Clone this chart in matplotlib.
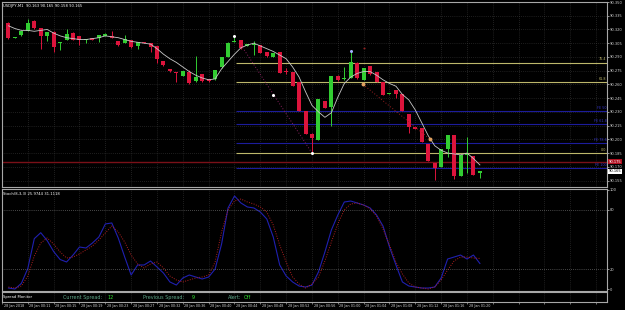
import matplotlib
matplotlib.use('Agg')
import matplotlib.pyplot as plt
from matplotlib.transforms import blended_transform_factory

# USDJPY M1 candles (open, high, low, close)
opens = [90.327, 90.311, 90.314, 90.318, 90.329, 90.322, 90.313, 90.317, 90.305, 90.309,
         90.316, 90.313, 90.309, 90.311, 90.311, 90.313, 90.313, 90.307, 90.305, 90.308,
         90.302, 90.306, 90.305, 90.302, 90.286, 90.277, 90.273, 90.269, 90.274, 90.264,
         90.271, 90.266, 90.266, 90.279, 90.290, 90.306, 90.308, 90.302, 90.303, 90.303,
         90.295, 90.290, 90.295, 90.275, 90.274, 90.263, 90.231, 90.206, 90.199, 90.242,
         90.235, 90.269, 90.266, 90.267, 90.283, 90.265, 90.280, 90.274, 90.263, 90.249,
         90.254, 90.249, 90.228, 90.213, 90.212, 90.195, 90.174, 90.170, 90.189, 90.205,
         90.160, 90.183, 90.182, 90.163]
highs = [90.328, 90.312, 90.318, 90.331, 90.330, 90.322, 90.317, 90.318, 90.306, 90.320,
         90.317, 90.313, 90.310, 90.311, 90.314, 90.316, 90.318, 90.307, 90.314, 90.308,
         90.306, 90.306, 90.305, 90.302, 90.286, 90.277, 90.273, 90.275, 90.276, 90.291,
         90.271, 90.266, 90.276, 90.290, 90.306, 90.312, 90.308, 90.304, 90.307, 90.303,
         90.295, 90.294, 90.295, 90.278, 90.274, 90.263, 90.231, 90.207, 90.244, 90.242,
         90.269, 90.270, 90.279, 90.295, 90.284, 90.278, 90.280, 90.274, 90.263, 90.251,
         90.254, 90.249, 90.228, 90.213, 90.212, 90.195, 90.174, 90.189, 90.205, 90.205,
         90.183, 90.203, 90.182, 90.165]
lows = [90.310, 90.311, 90.313, 90.318, 90.321, 90.299, 90.307, 90.295, 90.298, 90.309,
        90.308, 90.303, 90.305, 90.309, 90.306, 90.313, 90.311, 90.302, 90.305, 90.300,
        90.299, 90.305, 90.295, 90.283, 90.280, 90.274, 90.263, 90.269, 90.260, 90.263,
        90.263, 90.263, 90.265, 90.278, 90.290, 90.306, 90.299, 90.302, 90.292, 90.294,
        90.290, 90.290, 90.272, 90.271, 90.258, 90.231, 90.206, 90.185, 90.199, 90.234,
        90.214, 90.264, 90.265, 90.267, 90.266, 90.265, 90.270, 90.263, 90.248, 90.249,
        90.245, 90.231, 90.207, 90.211, 90.197, 90.176, 90.156, 90.170, 90.181, 90.157,
        90.160, 90.163, 90.161, 90.158]
closes = [90.311, 90.312, 90.318, 90.327, 90.322, 90.313, 90.317, 90.301, 90.306, 90.315,
          90.309, 90.309, 90.310, 90.309, 90.314, 90.315, 90.311, 90.303, 90.310, 90.301,
          90.306, 90.305, 90.301, 90.288, 90.281, 90.275, 90.272, 90.275, 90.261, 90.268,
          90.264, 90.264, 90.276, 90.290, 90.305, 90.307, 90.300, 90.304, 90.304, 90.294,
          90.291, 90.294, 90.272, 90.274, 90.258, 90.231, 90.206, 90.201, 90.244, 90.234,
          90.269, 90.265, 90.267, 90.285, 90.267, 90.278, 90.271, 90.263, 90.248, 90.251,
          90.249, 90.231, 90.213, 90.211, 90.197, 90.176, 90.169, 90.189, 90.205, 90.160,
          90.183, 90.184, 90.161, 90.165]
ma = [90.324, 90.321, 90.319, 90.319, 90.318, 90.319, 90.320, 90.316, 90.313, 90.311,
      90.310, 90.309, 90.309, 90.310, 90.311, 90.313, 90.312, 90.311, 90.309, 90.307,
      90.306, 90.305, 90.304, 90.299, 90.293, 90.288, 90.284, 90.279, 90.274, 90.270,
      90.267, 90.265, 90.266, 90.277, 90.285, 90.293, 90.300, 90.303, 90.305, 90.302,
      90.299, 90.296, 90.292, 90.288, 90.279, 90.268, 90.252, 90.237, 90.230, 90.224,
      90.229, 90.246, 90.261, 90.268, 90.272, 90.274, 90.274, 90.270, 90.265, 90.261,
      90.258, 90.249, 90.243, 90.232, 90.218, 90.204, 90.193, 90.188, 90.185, 90.184,
      90.183, 90.185, 90.179, 90.172]

# Stochastic(8,3,3)
stoch_main = [1.3, 0.3, 6, 21, 51, 57, 49, 38, 30, 27.5,
              34.5, 42.6, 41.6, 46.6, 52.7, 65.8, 66.8, 51.7, 32.5, 14.4,
              24.5, 24.5, 28.5, 22.5, 16.4, 7.4, 4.3, 11.4, 14.4, 12.4,
              10.4, 12.4, 20.4, 45.6, 81.9, 94, 86.9, 82.9, 81.9, 77.8,
              70.8, 52.7, 24.5, 13.4, 7.4, 3.3, 2.3, 4.3, 17.4, 37.6,
              59.7, 74.8, 87.9, 88.9, 86.9, 84.9, 81.9, 74.8, 63.7, 42.6,
              24.5, 7.4, 3.3, 2.3, 1.3, 1.3, 2.3, 11.4, 30.5, 32.5,
              34.5, 30.5, 34.5, 25.97]
stoch_signal = [2.3, 1.3, 3.3, 13.4, 33.5, 46.6, 51.7, 45.6, 37.6, 31.5,
                32.5, 35.6, 39.6, 43.6, 49.6, 56.7, 63.7, 57.7, 47.6, 34.5,
                25.5, 21.5, 25.5, 27.5, 21.5, 13.4, 9.4, 7.4, 9.4, 11.4,
                12.4, 14.4, 27.5, 57.7, 79.9, 88.9, 90.9, 87.9, 85.9, 82.9,
                77.8, 64.8, 44.6, 27.5, 12.4, 5.3, 1.3, 5.3, 12.4, 28.5,
                47.6, 65.8, 79.9, 85.9, 86.9, 84.9, 80.9, 73.8, 60.7, 44.6,
                27.5, 15.4, 6.3, 2.3, 1.3, 0.3, 2.3, 9.4, 19.4, 28.5,
                32.5, 32.5, 31.5, 31.11]

time_labels = ['28 Jan 2018', '28 Jan 00:11', '28 Jan 00:15', '28 Jan 00:19', '28 Jan 00:23',
               '28 Jan 00:27', '28 Jan 00:32', '28 Jan 00:36', '28 Jan 00:40', '28 Jan 00:44',
               '28 Jan 00:48', '28 Jan 00:52', '28 Jan 00:56', '28 Jan 01:00', '28 Jan 01:04',
               '28 Jan 01:08', '28 Jan 01:12', '28 Jan 01:16', '28 Jan 01:20']
price_ticks = [90.350, 90.335, 90.320, 90.305, 90.290, 90.275, 90.260, 90.245,
               90.230, 90.215, 90.200, 90.185, 90.170, 90.155]

fibo_levels = [90.2839, 90.2624, 90.1846]
fibo_names = ['76.4', '61.8', '0.0']
fe_levels = [90.2311, 90.2169, 90.1959, 90.1683]
fe_names = ['FE 50', 'FE 61.8', 'FE 78.6', 'FE 100']
red_level = 90.1755

W, H = 625, 310
fig = plt.figure(figsize=(6.25, 3.1), dpi=100, facecolor='black')


def px_axes(x0, y0, x1, y1):
    a = fig.add_axes([x0 / W, 1 - y1 / H, (x1 - x0) / W, (y1 - y0) / H])
    a.set_facecolor('black')
    for s in a.spines.values():
        s.set_color('#a8a8a8')
        s.set_linewidth(0.8)
    return a


ax = px_axes(2, 2, 607, 187)
ax_st = px_axes(2, 189, 607, 291)
ax_sp = px_axes(2, 292, 607, 302)

xlim = (-0.975, 92.68)
grid_x = list(range(-1, 93, 4))
GRID = dict(color='#3c3c3c', linestyle=(0, (1, 2)), linewidth=0.5)
bull, bear = '#32cd32', '#dc143c'
lab_col = '#d0d0d0'
fs = 2.6

# ---- main price window ----
n = len(opens)
for i in range(n):
    o, h, l, c = opens[i], highs[i], lows[i], closes[i]
    col = bull if c >= o else bear
    ax.vlines(i, l, h, color=col, lw=0.7, zorder=3)
    body = abs(c - o)
    bot = min(o, c)
    if body < 0.0008:
        bot = (o + c) / 2 - 0.0004
        body = 0.0008
    ax.bar(i, body, bottom=bot, width=0.62, color=col, lw=0, zorder=4)

ax.plot(range(n), ma, color='#c8c8c8', lw=0.6, zorder=5)

x_right = xlim[1]
ax.hlines(fibo_levels, 35.3, x_right, color='#bdb76b', lw=0.8, zorder=2)
ax.hlines(fe_levels, 35.3, x_right, color='#1c1c9c', lw=0.8, zorder=2)
ax.axhline(red_level, color='#7a1018', lw=1.0, zorder=2)
for lv, nm in zip(fibo_levels, fibo_names):
    ax.text(x_right - 0.1, lv + 0.0012, nm, color='#bdb76b', fontsize=2.4, ha='right', va='bottom')
for lv, nm in zip(fe_levels, fe_names):
    ax.text(x_right - 0.1, lv + 0.0012, nm, color='#3434c8', fontsize=2.4, ha='right', va='bottom')

# fibo trend lines and markers
ax.plot([36, 47], [90.303, 90.185], color='#8a2060', lw=0.7, ls=(0, (1, 2)), zorder=6)
ax.plot([54.9, 65.3], [90.260, 90.200], color='#9a2020', lw=0.7, ls=(0, (1, 2)), zorder=6)
ax.plot([41, 47, 35], [90.248, 90.185, 90.313], 'o', color='white', ms=1.2, zorder=7)
ax.plot([53], [90.296], 'o', color='#a0b0ff', ms=1.2, zorder=7)
ax.plot([54.9, 65.3], [90.260, 90.200], 'o', color='#e0a060', ms=1.8, zorder=7)
ax.plot([55], [90.300], '_', color='#9a2020', ms=2, zorder=7)

ax.set_xlim(*xlim)
ax.set_ylim(90.1479, 90.3497)
ax.set_xticks(grid_x)
ax.yaxis.tick_right()
ax.set_yticks(price_ticks)
ax.set_yticklabels([f'{p:.3f}' for p in price_ticks])
ax.tick_params(axis='y', colors=lab_col, labelsize=fs, length=1.2, width=0.5, pad=0.8)
ax.tick_params(axis='x', length=0, labelbottom=False)
ax.grid(True, **GRID)
ax.set_axisbelow(True)
ax.text(0.002, 0.99, 'USDJPY,M1  90.163 90.165 90.158 90.165', transform=ax.transAxes,
        color='white', fontsize=2.7, va='top', ha='left')

bt = blended_transform_factory(ax.transAxes, ax.transData)
ax.text(1.003, red_level, '90.175', transform=bt, color='white', fontsize=fs, va='center',
        ha='left', bbox=dict(facecolor='#b01020', edgecolor='none', pad=0.4), clip_on=False)
ax.text(1.003, closes[-1], f'{closes[-1]:.3f}', transform=bt, color='black', fontsize=fs,
        va='center', ha='left', bbox=dict(facecolor='white', edgecolor='none', pad=0.4), clip_on=False)

# ---- stochastic window ----
ax_st.plot(range(n), stoch_main, color='#2020b0', lw=0.8)
ax_st.plot(range(n), stoch_signal, color='#b02020', lw=0.7, ls=(0, (1, 1.5)))
ax_st.axhline(80, color='#8c8c8c', lw=0.5, ls=(0, (1, 2)))
ax_st.axhline(20, color='#8c8c8c', lw=0.5, ls=(0, (1, 2)))
ax_st.set_xlim(*xlim)
ax_st.set_ylim(-1.7, 101)
ax_st.set_xticks(grid_x)
ax_st.yaxis.tick_right()
ax_st.set_yticks([0, 20, 80, 100])
ax_st.tick_params(axis='y', colors=lab_col, labelsize=fs, length=1.2, width=0.5, pad=0.8)
ax_st.tick_params(axis='x', length=0, labelbottom=False)
ax_st.grid(True, axis='x', **GRID)
ax_st.text(0.002, 0.975, 'Stoch(8,3,3) 25.9744 31.1118', transform=ax_st.transAxes,
           color='white', fontsize=2.7, va='top', ha='left')

# ---- spread monitor window + time axis ----
ax_sp.set_xlim(*xlim)
ax_sp.set_ylim(0, 1)
ax_sp.set_yticks([])
ax_sp.set_xticks(grid_x)
ax_sp.tick_params(axis='x', length=1.5, width=0.5, colors='#a0a0a0', labelbottom=False)
ax_sp.grid(True, axis='x', **GRID)
ax_sp.text(0.002, 0.5, 'Spread Monitor', transform=ax_sp.transAxes, color='white',
           fontsize=2.7, va='center')
teal = '#5fa88a'
ax_sp.text(8.5, 0.45, 'Current Spread:', color=teal, fontsize=3.5, va='center')
ax_sp.text(15.3, 0.45, '12', color='#32e032', fontsize=3.5, va='center')
ax_sp.text(20.9, 0.45, 'Previous Spread:', color=teal, fontsize=3.5, va='center')
ax_sp.text(28.4, 0.45, '9', color='#32e032', fontsize=3.5, va='center')
ax_sp.text(34.0, 0.45, 'Alert:', color=teal, fontsize=3.5, va='center')
ax_sp.text(36.5, 0.45, 'Off', color='#32e032', fontsize=3.5, va='center')

tt = blended_transform_factory(ax_sp.transData, ax_sp.transAxes)
for k, lab in enumerate(time_labels):
    ax_sp.text(grid_x[k] + 0.25, -0.37, lab, transform=tt, color=lab_col, fontsize=2.4,
               va='center', ha='left', clip_on=False)

fig.savefig('out.png', dpi=100, facecolor='black')
